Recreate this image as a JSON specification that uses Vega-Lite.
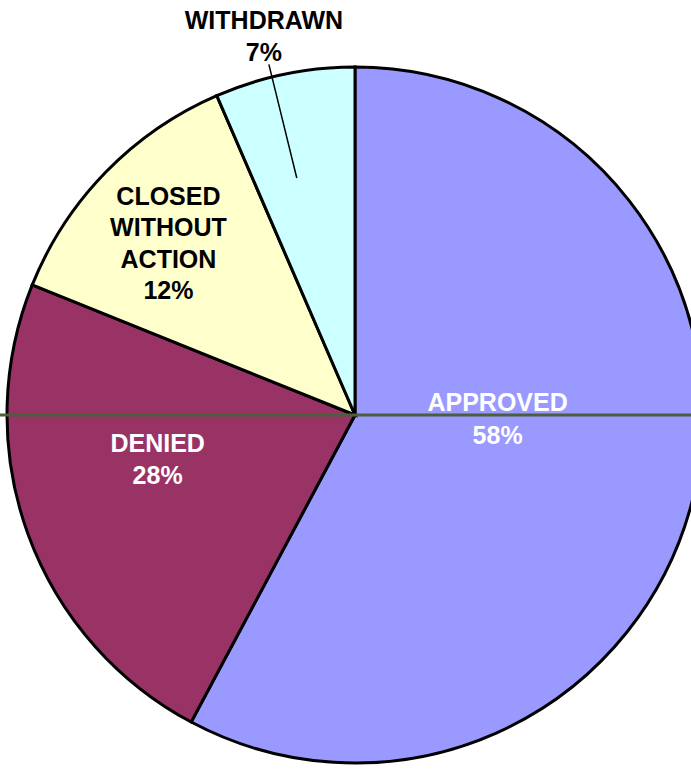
{
  "$schema": "https://vega.github.io/schema/vega-lite/v6.json",
  "autosize": "none",
  "padding": {"left": 19, "top": 60, "right": 0, "bottom": 0},
  "width": 672,
  "height": 710,
  "background": "white",
  "config": {"view": {"stroke": null}},
  "data": {
    "values": [
      {"label": "APPROVED", "value": 57.8, "order": 1, "text": "APPROVED\n58%"},
      {"label": "DENIED", "value": 23.3, "order": 2, "text": "DENIED\n28%"},
      {"label": "CLOSED WITHOUT ACTION", "value": 12.4, "order": 3, "text": "CLOSED\nWITHOUT\nACTION\n12%"},
      {"label": "WITHDRAWN", "value": 6.5, "order": 4, "text": "WITHDRAWN\n7%"}
    ]
  },
  "encoding": {
    "theta": {"field": "value", "type": "quantitative", "stack": true},
    "order": {"field": "order", "type": "quantitative"}
  },
  "layer": [
    {
      "mark": {"type": "arc", "outerRadius": 348, "stroke": "black", "strokeWidth": 3},
      "encoding": {
        "color": {
          "field": "label",
          "type": "nominal",
          "scale": {
            "domain": ["APPROVED", "DENIED", "CLOSED WITHOUT ACTION", "WITHDRAWN"],
            "range": ["#9999FF", "#993366", "#FFFFCC", "#CCFFFF"]
          },
          "legend": null
        }
      }
    },
    {
      "mark": {"type": "arc", "outerRadius": 420, "innerRadius": 0, "padAngle": 0.6, "thetaOffset": -4.508, "fillOpacity": 0, "strokeWidth": 3, "strokeDash": [2, 1]},
      "encoding": {
        "stroke": {"condition": {"test": "datum.label === 'WITHDRAWN'", "value": "#4d5e3c"}, "value": "transparent"}
      }
    },
    {
      "mark": {"type": "arc", "outerRadius": 420, "innerRadius": 0, "padAngle": 0.6, "thetaOffset": -1.3666, "fillOpacity": 0, "strokeWidth": 3, "strokeDash": [2, 1]},
      "encoding": {
        "stroke": {"condition": {"test": "datum.label === 'WITHDRAWN'", "value": "#4d5e3c"}, "value": "transparent"}
      }
    },
    {
      "mark": {"type": "arc", "outerRadius": 361, "innerRadius": 244, "padAngle": 0.5, "thetaOffset": -0.0367, "fillOpacity": 0, "strokeWidth": 1.5},
      "encoding": {
        "stroke": {"condition": {"test": "datum.label === 'WITHDRAWN'", "value": "black"}, "value": "transparent"}
      }
    },
    {
      "mark": {"type": "text", "radius": 147, "dy": -48, "font": "Liberation Sans", "fontWeight": "bold", "fontSize": 25, "lineBreak": "\n", "lineHeight": 33, "fill": "white"},
      "encoding": {
        "text": {"condition": {"test": "datum.label === 'APPROVED'", "field": "text"}, "value": ""}
      }
    },
    {
      "mark": {"type": "text", "radius": 210, "dy": -43, "font": "Liberation Sans", "fontWeight": "bold", "fontSize": 25, "lineBreak": "\n", "lineHeight": 32, "fill": "white"},
      "encoding": {
        "text": {"condition": {"test": "datum.label === 'DENIED'", "field": "text"}, "value": ""}
      }
    },
    {
      "mark": {"type": "text", "radius": 255, "dx": -4, "dy": -40, "font": "Liberation Sans", "fontWeight": "bold", "fontSize": 25, "lineBreak": "\n", "lineHeight": 31.5, "fill": "black"},
      "encoding": {
        "text": {"condition": {"test": "datum.label === 'CLOSED WITHOUT ACTION'", "field": "text"}, "value": ""}
      }
    },
    {
      "mark": {"type": "text", "radius": 385, "dx": -13, "dy": -17, "font": "Liberation Sans", "fontWeight": "bold", "fontSize": 25, "lineBreak": "\n", "lineHeight": 32, "fill": "black"},
      "encoding": {
        "text": {"condition": {"test": "datum.label === 'WITHDRAWN'", "field": "text"}, "value": ""}
      }
    }
  ]
}
